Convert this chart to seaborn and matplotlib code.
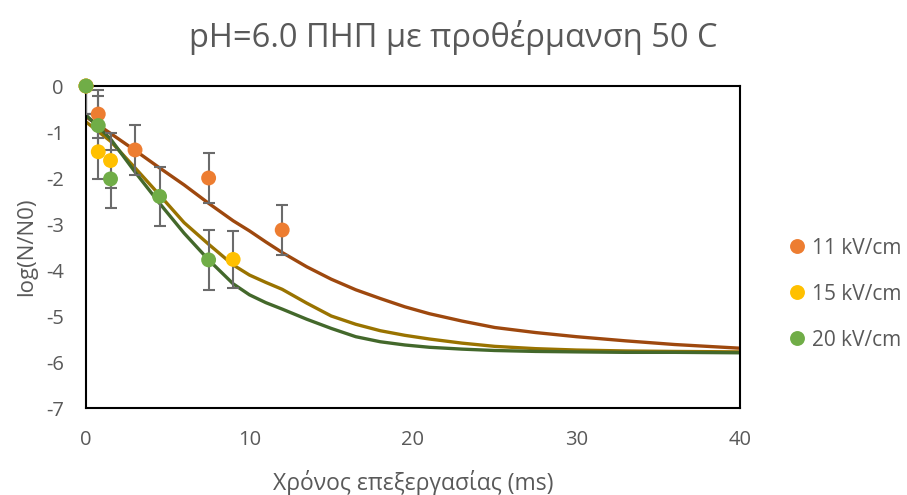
import pandas as pd
import matplotlib
matplotlib.use('Agg')
import matplotlib.pyplot as plt
import seaborn as sns

# measured points
t_11 = [0, 0.75, 3, 7.5, 12]
y_11 = [0, -0.61, -1.39, -2.0, -3.13]
e_11 = [0.6, 0.52, 0.54, 0.54, 0.54]

t_15 = [0, 0.75, 1.5, 9]
y_15 = [0, -1.43, -1.62, -3.77]
e_15 = [0.6, 0.6, 0.6, 0.62]

t_20 = [0, 0.75, 1.5, 4.5, 7.5]
y_20 = [0, -0.86, -2.02, -2.4, -3.78]
e_20 = [0.6, 0.64, 0.63, 0.65, 0.65]

# fitted curves
fit_t = [0, 1.5, 3, 4.5, 6, 7.5, 9, 10, 11, 12, 13.5, 15, 16.5, 18, 19.5, 21, 23, 25, 27.5, 30, 33, 36, 40]
fit_11 = [-0.67, -1.03, -1.40, -1.78, -2.15, -2.55, -2.93, -3.15, -3.39, -3.62, -3.93, -4.2, -4.43, -4.62, -4.8, -4.95,
          -5.11, -5.25, -5.36, -5.45, -5.54, -5.62, -5.7]
fit_15 = [-0.78, -1.2, -1.78, -2.37, -2.97, -3.44, -3.89, -4.11, -4.27, -4.42, -4.72, -5.0, -5.18, -5.32, -5.42, -5.5,
          -5.59, -5.66, -5.71, -5.74, -5.76, -5.77, -5.78]
fit_20 = [-0.63, -1.15, -1.87, -2.55, -3.2, -3.78, -4.3, -4.54, -4.71, -4.85, -5.07, -5.27, -5.45, -5.56, -5.63, -5.68,
          -5.72, -5.75, -5.77, -5.78, -5.79, -5.79, -5.8]

labels = ['11 kV/cm', '15 kV/cm', '20 kV/cm']
point_colors = ['#ED7D31', '#FFC000', '#70AD47']
line_colors = ['#9E480E', '#997300', '#43682B']

pts = pd.concat([
    pd.DataFrame({'t': t, 'y': y, 'err': e, 'field': lab})
    for t, y, e, lab in zip([t_11, t_15, t_20], [y_11, y_15, y_20], [e_11, e_15, e_20], labels)
])
fits = pd.concat([
    pd.DataFrame({'t': fit_t, 'y': f, 'field': lab})
    for f, lab in zip([fit_11, fit_15, fit_20], labels)
])

sns.set_theme(style='white')
plt.rcParams['font.family'] = ['Open Sans', 'DejaVu Sans']
plt.rcParams['axes.unicode_minus'] = False
grey = '#595959'

fig = plt.figure(figsize=(9.07, 4.95), dpi=100)
ax = fig.add_axes([86/907, 1-408/495, (740-86)/907, (408-86)/495])

sns.lineplot(data=fits, x='t', y='y', hue='field', palette=line_colors,
             estimator=None, sort=True, linewidth=2.4, legend=False, ax=ax, zorder=2)

for lab in labels:
    d = pts[pts['field'] == lab]
    ax.errorbar(d['t'], d['y'], yerr=d['err'], fmt='none', ecolor='#6b6b6b',
                elinewidth=1.5, capsize=4, capthick=1.5, zorder=3)

sns.scatterplot(data=pts, x='t', y='y', hue='field', palette=point_colors,
                s=115, edgecolor='none', ax=ax, zorder=4, clip_on=False)

ax.set_xlim(0, 40)
ax.set_ylim(-7, 0)
ax.set_xticks([0, 10, 20, 30, 40])
ax.set_yticks(range(-7, 1))
ax.tick_params(axis='both', labelsize=14.5, colors=grey, length=0)
ax.tick_params(axis='x', pad=16)
ax.tick_params(axis='y', pad=16)
for s in ax.spines.values():
    s.set_color('black')
    s.set_linewidth(1.5)

ax.set_xlabel('Χρόνος επεξεργασίας (ms)', fontsize=16.5, color=grey, labelpad=14)
ax.set_ylabel('log(N/N0)', fontsize=16, color=grey, labelpad=6)
fig.text(0.5, 0.925, 'pH=6.0 ΠΗΠ με προθέρμανση 50 C', ha='center', va='center',
         fontsize=23.5, color=grey)

handles, labs = ax.get_legend_handles_labels()
leg = ax.legend(handles, labs, loc='center left', bbox_to_anchor=(788/907, 1-294/495),
                bbox_transform=fig.transFigure, frameon=False, fontsize=15,
                handlelength=0.9, handletextpad=0.25, labelspacing=1.2,
                borderpad=0, borderaxespad=0, markerscale=1.0)
for txt in leg.get_texts():
    txt.set_color(grey)

fig.savefig('out.png', dpi=100)
